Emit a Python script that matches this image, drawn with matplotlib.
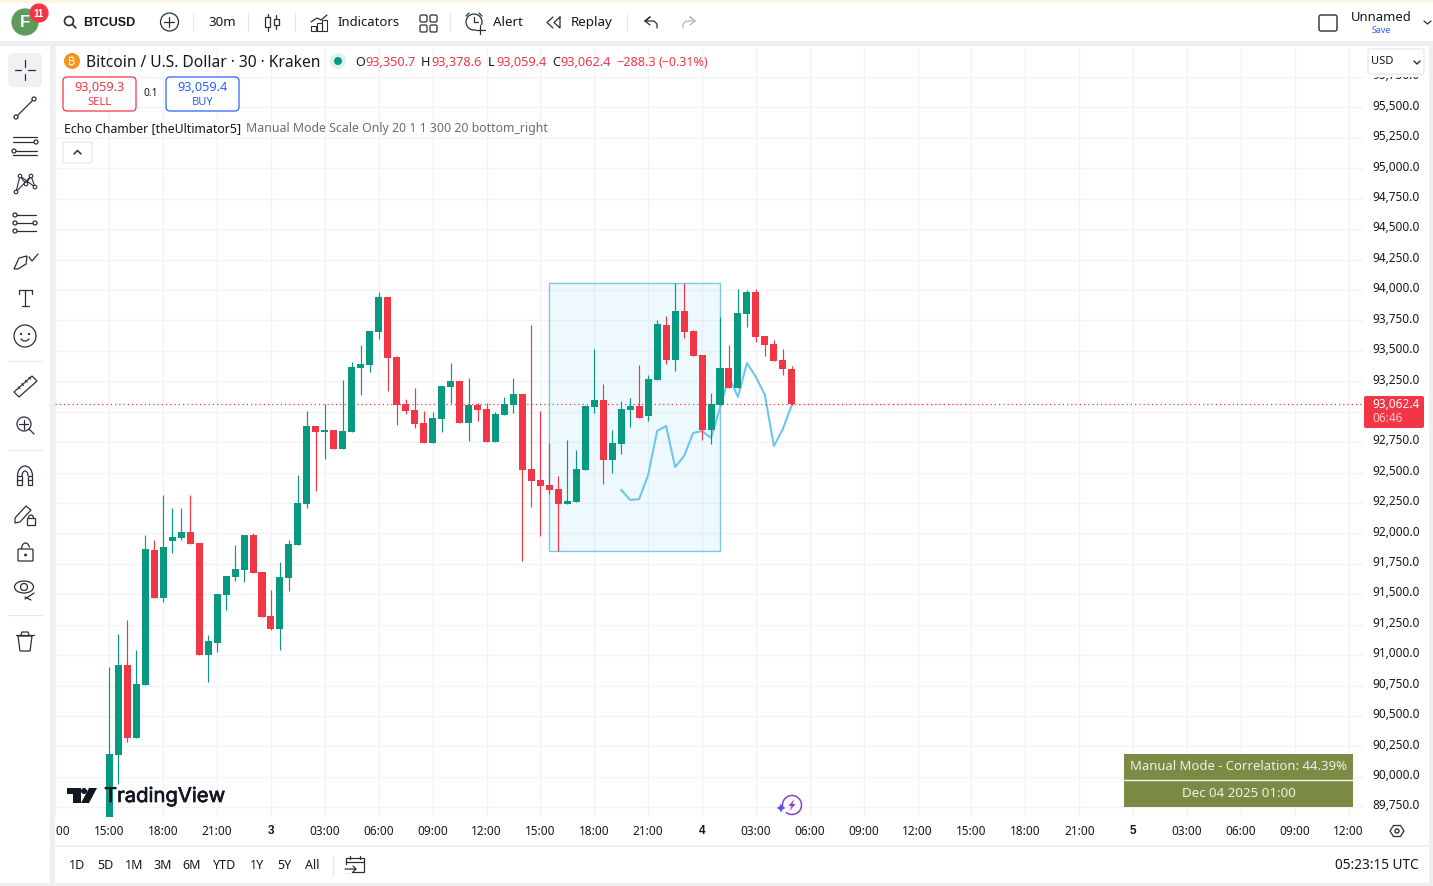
import matplotlib
matplotlib.use('Agg')
import matplotlib.pyplot as plt
import matplotlib.patheffects as pe
import numpy as np
from matplotlib.patches import Rectangle, Circle, FancyBboxPatch, Polygon, Ellipse, Arc

plt.rcParams['font.family'] = ['Noto Sans', 'DejaVu Sans']

# candles, one row per 30 minute bar starting Dec 2 15:00
opens = [89670, 90180, 90919, 90319, 90755, 91864, 91470, 91938, 91963, 92012, 91921, 91001, 91100, 91494,
         91642, 91700, 91987, 91683, 91322, 91215, 91634, 91905, 92242, 92883, 92834, 92850, 92694, 92834,
         93360, 93384, 93655, 93943, 93450, 93064, 93014, 92907, 92743, 92940, 93203, 93253, 92907, 93056,
         93023, 92752, 92973, 93056, 93146, 92529, 92439, 92398, 92365, 92242, 92258, 92521, 93039, 93097,
         92604, 92735, 93014, 93047, 92965, 93261, 93713, 93425, 93828, 93664, 93466, 92850, 93056, 93360,
         93195, 93803, 93984, 93623, 93557, 93425, 93350.7]
highs = [90902, 91174, 91289, 91042, 91987, 91946, 92316, 92209, 92209, 92316, 91921, 91165, 91502, 91650,
         91905, 91987, 92004, 91683, 91535, 91765, 91946, 92480, 93006, 92883, 93063, 92850, 93261, 93409,
         93549, 93664, 93984, 93943, 93458, 93105, 93195, 93006, 92998, 93212, 93401, 93253, 93277, 93072,
         93072, 92998, 93121, 93277, 93146, 93713, 93006, 92743, 92472, 92768, 92686, 93056, 93516, 93228,
         92850, 93088, 93113, 93384, 93302, 93754, 93787, 94058, 94058, 93672, 93466, 93154, 93779, 93549,
         94009, 94000, 94009, 93623, 93590, 93516, 93378.6]
lows = [89670, 89941, 90286, 90319, 90755, 91470, 91437, 91839, 91946, 91913, 91001, 90779, 91026, 91371,
        91609, 91601, 91675, 91313, 91207, 91042, 91527, 91905, 92209, 92349, 92612, 92694, 92694, 92834,
        93138, 93327, 93598, 93171, 92892, 92982, 92866, 92743, 92743, 92834, 93072, 92907, 92760, 92924,
        92752, 92752, 92973, 92990, 91774, 92217, 91979, 92324, 91856, 92242, 92258, 92521, 92990, 92406,
        92496, 92653, 92875, 92949, 92924, 93261, 93392, 93335, 93606, 93458, 92768, 92735, 93056, 93195,
        93195, 93697, 93573, 93458, 93417, 93302, 93059.4]
closes = [90188, 90919, 90319, 90763, 91872, 91470, 91889, 91971, 92012, 91913, 91001, 91116, 91502, 91650,
          91708, 91987, 91675, 91313, 91215, 91642, 91913, 92250, 92883, 92834, 92850, 92694, 92842, 93368,
          93393, 93664, 93943, 93442, 93056, 93006, 92899, 92743, 92949, 93212, 93253, 92907, 93056, 93014,
          92752, 92982, 93064, 93146, 92521, 92430, 92390, 92357, 92242, 92266, 92529, 93047, 93097, 92604,
          92743, 93023, 93047, 92949, 93269, 93721, 93425, 93828, 93655, 93458, 92850, 93064, 93360, 93195,
          93812, 93984, 93614, 93549, 93417, 93351, 93062.4]

# Echo Chamber overlay line, starts at bar 57
echo_start = 57
echo_values = [92357, 92275, 92283, 92480, 92842, 92883, 92546, 92636, 92825, 92842, 92785, 93031, 93285,
               93121, 93401, 93285, 93138, 92718, 92858, 93056]

# highlighted window
box_bars = (49, 68)
box_prices = (91856, 94058)
last_close = 93062.4

price_ticks = np.arange(89750, 96000, 250)
time_ticks = np.arange(-6, 139, 6)
time_labels = ['12:00', '15:00', '18:00', '21:00', '3', '03:00', '06:00', '09:00', '12:00', '15:00', '18:00',
               '21:00', '4', '03:00', '06:00', '09:00', '12:00', '15:00', '18:00', '21:00', '5', '03:00',
               '06:00', '09:00', '12:00']

GREEN = '#089981'
RED = '#F23645'
GRID = '#F2F3F5'
DARK = '#131722'
ICON = '#2A2E39'

W, H = 1433, 886
fig = plt.figure(figsize=(W / 100, H / 100), dpi=100, facecolor='white')

# main chart, pixel box 55..1363 x 47..817
ax = fig.add_axes([55 / W, 1 - 817 / H, (1363 - 55) / W, (817 - 47) / H])
ax.set_xlim(-6.05, 139.6)
ax.set_ylim(96383.3 - 8.217 * 817, 96383.3 - 8.217 * 47)
for s in ax.spines.values():
    s.set_visible(False)
ax.yaxis.tick_right()
ax.set_yticks(price_ticks)
ax.set_yticklabels([])
ax.tick_params(axis='y', length=0)
# price labels sit a pixel above their grid line, the 93,000 one is behind the last price tag
for p in price_ticks:
    if p != 93000:
        ax.annotate(f'{p:,.1f}', xy=(1, p), xycoords=('axes fraction', 'data'), xytext=(9, 1.3),
                    textcoords='offset pixels', fontsize=8.5, color=DARK, va='center', ha='left',
                    annotation_clip=False)
ax.set_xticks(time_ticks)
ax.set_xticklabels(time_labels, fontsize=8.5, color=DARK)
ax.tick_params(axis='x', length=0, pad=5.8)
for lab, t in zip(ax.get_xticklabels(), time_labels):
    if len(t) == 1:
        lab.set_family('Liberation Sans')
        lab.set_fontweight('bold')
ax.grid(True, color=GRID, lw=1)
ax.set_axisbelow(True)

ax.add_patch(Rectangle((box_bars[0], box_prices[0]), box_bars[1] - box_bars[0], box_prices[1] - box_prices[0],
                       facecolor='#5FCBF5', alpha=0.1, edgecolor='none', zorder=1.5))
ax.add_patch(Rectangle((box_bars[0], box_prices[0]), box_bars[1] - box_bars[0], box_prices[1] - box_prices[0],
                       facecolor='none', edgecolor='#7CC8E4', lw=1, zorder=1.6))

ax.plot(np.arange(len(echo_values)) + echo_start, echo_values, color='#6EC6EE', lw=1.5, zorder=2,
        solid_joinstyle='round')

idx = np.arange(len(opens))
o = np.array(opens, dtype=float)
c = np.array(closes, dtype=float)
colors = [GREEN if b > a else RED for a, b in zip(o, c)]
ax.vlines(idx, lows, highs, colors=colors, lw=0.85, zorder=3)
ax.bar(idx, np.abs(c - o), bottom=np.minimum(o, c), width=0.78, color=colors, lw=0, zorder=3)

ax.axhline(last_close, color=RED, lw=0.9, ls=(0, (1, 2.4)), zorder=2.5)
ax.plot([76, 96], [last_close, last_close], color=RED, lw=1, alpha=0.3, ls=(0, (2, 2)), zorder=2.4)

# everything else is screen furniture, drawn in pixel coordinates
ui = fig.add_axes([0, 0, 1, 1], facecolor='none', zorder=5)
ui.set_xlim(0, W)
ui.set_ylim(H, 0)
ui.axis('off')


def txt(x, y, s, size=9, color=DARK, ha='left', **kw):
    return ui.text(x, y + 0.7, s, fontsize=size, color=color, ha=ha, va='center', **kw)


def box(x0, y0, x1, y1, fc='white', ec='none', lw=1, r=0, z=1):
    if r:
        p = FancyBboxPatch((x0 + r, y0 + r), x1 - x0 - 2 * r, y1 - y0 - 2 * r, boxstyle=f'round,pad={r},rounding_size={r}',
                           fc=fc, ec=ec, lw=lw, zorder=z)
    else:
        p = Rectangle((x0, y0), x1 - x0, y1 - y0, fc=fc, ec=ec, lw=lw, zorder=z)
    ui.add_patch(p)


def line(xs, ys, color=ICON, lw=0.9, z=3):
    ui.plot(xs, ys, color=color, lw=lw, zorder=z, solid_capstyle='round')


def ring(x, y, r, color=ICON, lw=0.9, fc='none', z=3):
    ui.add_patch(Circle((x, y), r, fc=fc, ec=color, lw=lw, zorder=z))


GUT = '#EEEFF1'
box(0, 0, 50, H, fc='white')
box(50, 0, 55, H, fc=GUT)
box(0, 0, W, 42, fc='white')
box(0, 0, W, 3, fc='#FBF3E4', z=1.2)
box(0, 41, W, 46, fc=GUT, z=1.2)
box(55, 846, W, H, fc='white')
box(55, 845, W, 847, fc=GUT, z=1.2)
box(0, 883, W, H, fc=GUT, z=1.2)
box(1429, 42, W, H, fc=GUT, z=1.2)

# top bar
ring(25, 22, 13, color='#5E9C5B', fc='#5E9C5B')
txt(25, 22, 'F', size=12, color='white', ha='center', family='Liberation Sans', fontweight='bold', zorder=4)
ring(39, 13, 9, color=RED, fc=RED, z=4)
txt(39, 13, '11', size=7, color='white', ha='center', family='Liberation Sans', fontweight='bold', zorder=5)
ring(69, 21, 4.5, lw=1.2)
line([72.5, 76], [24.5, 28], lw=1.2)
txt(83, 22, 'BTCUSD', size=9, family='Liberation Sans', fontweight='bold')
ring(169.5, 22, 9)
line([164.5, 174.5], [22, 22])
line([169.5, 169.5], [17, 27])
txt(208, 22, '30m', size=9.6)
for x in [193, 248, 295, 450, 627]:
    line([x, x], [13, 31], color='#E6E7EA', lw=0.8)
line([268, 268], [14, 31])
box(265.5, 17, 270.5, 27, fc='white', ec=ICON, lw=0.9, z=4)
line([276.5, 276.5], [15, 29])
box(274, 19, 279, 25, fc='white', ec=ICON, lw=0.9, z=4)
line([311, 317, 321, 327], [22, 18, 20, 15])
for x0, y0 in [(311, 26), (317, 23), (322, 20)]:
    box(x0, y0, x0 + 5, 31, fc='none', ec=ICON, lw=0.8, z=3)
txt(337, 22, 'Indicators', size=9.4)
for x0 in [420, 430]:
    for y0 in [15, 25]:
        box(x0, y0, x0 + 7, y0 + 7, fc='none', ec=ICON, lw=0.9, r=1.5, z=3)
ring(474, 22, 8)
line([474, 474, 478], [17, 22, 22])
line([466, 469], [16, 13])
line([479, 482], [13, 16])
box(476, 25, 485, 34, fc='white', z=3.5)
line([476, 485], [29.5, 29.5], z=4)
line([480.5, 480.5], [25, 34], z=4)
txt(493, 22, 'Alert', size=9.6)
line([553, 547, 553], [17, 22.5, 28])
line([560, 554, 560, 560], [17, 22.5, 28, 17])
txt(571, 22, 'Replay', size=9.6)
line([645, 650, 645, 654, 657, 657], [21, 17, 21, 21, 24, 28])
line([645, 650], [21, 25])
line([695, 690, 695, 686, 683, 683], [21, 17, 21, 21, 24, 28], color='#B2B5BE')
line([695, 690], [21, 25], color='#B2B5BE')
box(1319, 15, 1337, 31, fc='white', ec=ICON, lw=1, r=2, z=3)
txt(1381, 17, 'Unnamed', size=9.4, ha='center')
txt(1381, 29.5, 'Save', size=6.4, color='#2962FF', ha='center')
line([1424, 1427.5, 1431], [21, 24, 21])

# legend rows
ring(72, 61, 8, color='#F7931A', fc='#F7931A', lw=0)
txt(72, 60.5, '₿', size=8, color='white', ha='center', zorder=4,
    family=['Inter', 'Noto Sans', 'Roboto', 'Open Sans', 'DejaVu Sans'])
txt(86, 61.8, 'Bitcoin / U.S. Dollar · 30 · Kraken', size=11.2)
ring(338, 61, 8, color='#DDF3EF', fc='#DDF3EF', lw=0)
ring(338, 61, 4, color=GREEN, fc=GREEN, lw=0, z=4)
for lx, l, vx, v in [(355, 'O', 365, '93,350.7'), (421, 'H', 431, '93,378.6'),
                     (487.5, 'L', 496, '93,059.4'), (552, 'C', 560, '93,062.4')]:
    txt(lx, 61.6, l, size=9)
    txt(vx, 61.6, v, size=9.2, color=RED)
txt(616, 61.6, '−288.3', size=9.2, color=RED)
txt(659, 61.6, '(−0.31%)', size=9, color=RED)

box(63, 77, 136, 111, fc='white', ec=RED, lw=0.9, r=4, z=2)
txt(99.5, 87, '93,059.3', size=9.2, color=RED, ha='center')
txt(99.5, 101.6, 'SELL', size=8, color=RED, ha='center')
txt(151, 93, '0.1', size=7.4, ha='center')
box(166, 77, 239, 111, fc='white', ec='#2962FF', lw=0.9, r=4, z=2)
txt(203, 87, '93,059.4', size=9.2, color='#2962FF', ha='center')
txt(203, 101.6, 'BUY', size=8, color='#2962FF', ha='center')
txt(64, 127.5, 'Echo Chamber [theUltimator5]', size=8.9)
txt(246, 127.5, 'Manual Mode Scale Only 20 1 1 300 20 bottom_right', size=8.85, color='#6A6D78')
box(63, 142, 92, 163, fc='white', ec='#E0E3EB', lw=0.8, r=2, z=2)
line([74, 77.5, 81], [154, 150.5, 154], lw=1.1)

# left toolbar
box(8, 53, 42, 87, fc='#F0F1F3', r=5, z=2)
line([25, 25], [60, 66.5])
line([25, 25], [73.5, 80])
line([15, 21.5], [70, 70])
line([28.5, 35], [70, 70])
line([17, 33], [116, 100])
ring(16, 117, 2, fc='white', z=4)
ring(34, 99, 2, fc='white', z=4)
line([13, 37], [137, 137])
line([13, 35], [142, 142])
line([16, 37], [151, 151])
line([13, 37], [155, 155])
ring(36, 142, 2, fc='white', z=4)
ring(14, 151, 2, fc='white', z=4)
for xs, ys in [([16, 20, 26, 31, 35], [192, 176, 184, 176, 187]), ([16, 31], [192, 176]), ([20, 35], [176, 187])]:
    line(xs, ys, lw=0.8)
for px, py in [(16, 192), (20, 176), (26, 184), (31, 176), (35, 187)]:
    ring(px, py, 1.8, fc='white', z=4, lw=0.8)
for yy in [215, 223, 231]:
    line([16, 36], [yy, yy])
    ring(15, yy, 2, fc='white', z=4)
ring(35, 223, 2, fc='white', z=4)
ui.add_patch(Polygon([[14, 269], [19, 258], [27, 256], [26, 264], [18, 269]], fc='white', ec=ICON, lw=0.9, zorder=3))
line([29, 32, 38], [257, 261, 254])
line([19, 32], [290, 290])
line([25.5, 25.5], [290, 306])
line([19, 19], [290, 294])
line([32, 32], [290, 294])
line([22, 29], [306, 306])
ring(25, 336, 11)
ring(21, 334, 0.5, fc=ICON)
ring(29, 334, 0.5, fc=ICON)
ui.add_patch(Arc((25, 337), 9, 8, theta1=20, theta2=160, ec=ICON, lw=0.9, zorder=3))
line([8, 42], [361, 361], color='#E6E7EA', lw=0.8)
ui.add_patch(Polygon([[14, 392], [32, 376], [37, 381], [19, 397]], fc='white', ec=ICON, lw=0.9, zorder=3))
for t in [0.2, 0.4, 0.6, 0.8]:
    x0, y0 = 16.5 + 18 * t, 394.5 - 16 * t
    line([x0, x0 - 2], [y0 - 2.5, y0 - 4.5], lw=0.7, z=4)
ring(24, 424, 7)
line([19.5, 28.5], [424, 424])
line([24, 24], [419.5, 428.5])
line([29, 34], [429, 434])
line([8, 42], [450, 450], color='#E6E7EA', lw=0.8)
ui.add_patch(Arc((25, 476), 15, 20, theta1=180, theta2=360, ec=ICON, lw=0.9, zorder=3))
ui.add_patch(Arc((25, 476), 6, 10, theta1=180, theta2=360, ec=ICON, lw=0.9, zorder=3))
for x0 in [17.5, 28]:
    box(x0, 476, x0 + 4.5, 485, fc='none', ec=ICON, lw=0.9, z=3)
line([17.5, 22], [480, 480])
line([28, 32.5], [480, 480])
ui.add_patch(Polygon([[15, 518], [26, 506], [31, 510], [20, 522], [15, 523]], fc='white', ec=ICON, lw=0.9, zorder=3))
box(27, 518, 35, 525, fc='white', ec=ICON, lw=0.9, z=4)
ui.add_patch(Arc((31, 518), 5, 6, theta1=180, theta2=360, ec=ICON, lw=0.9, zorder=4))
box(18, 549, 33, 561, fc='white', ec=ICON, lw=0.9, r=1, z=3)
ui.add_patch(Arc((25.5, 549), 8, 12, theta1=180, theta2=340, ec=ICON, lw=0.9, zorder=3))
ring(25.5, 555, 0.8, fc=ICON)
ui.add_patch(Ellipse((24, 587), 19, 12, fc='none', ec=ICON, lw=0.9, zorder=3))
ring(24, 587, 3.5)
line([25, 34], [599, 593])
line([25, 31], [597, 600])
line([8, 42], [615, 615], color='#E6E7EA', lw=0.8)
ui.add_patch(Polygon([[18, 636], [20, 651], [30, 651], [32, 636]], fc='white', ec=ICON, lw=0.9, zorder=3))
line([16, 34], [635, 635])
line([21, 22, 28, 29], [635, 632, 632, 635])

# price scale extras
box(1364, 46, 1429, 76.5, fc='white', z=1.5)
box(1368, 49, 1424, 74, fc='white', ec='#E0E3EB', lw=0.8, r=2, z=2)
txt(1371, 61, 'USD', size=8)
line([1414, 1417, 1420], [61, 64, 61], lw=1)
box(1364, 396, 1424, 428, fc=RED, r=2, z=2)
txt(1372, 404, '93,062.4', size=8.5, color='white', zorder=3)
txt(1372, 418, '06:46', size=8.5, color='#FFC8CD', zorder=3)
ring(1397, 831, 2, lw=1)
ui.add_patch(Polygon([[1390, 831], [1393.5, 825.5], [1400.5, 825.5], [1404, 831], [1400.5, 836.5], [1393.5, 836.5]],
                     fc='none', ec=ICON, lw=0.9, zorder=3))

# table bottom right
box(1124, 754, 1353, 807, fc='#7B8B45', z=2)
line([1124, 1353], [780, 780], color='#F4F5EC', lw=1)
txt(1239, 766, 'Manual Mode - Correlation: 44.39%', size=9.45, color='#F0F2E4', ha='center', zorder=3)
txt(1239, 793, 'Dec 04 2025 01:00', size=9.6, color='#F0F2E4', ha='center', zorder=3)

# logo
ui.add_patch(Polygon([[67, 788], [81, 788], [81, 803], [73.5, 803], [73.5, 793.5], [67, 793.5]], fc=DARK, ec='none', zorder=3))
ring(84, 791, 3, color=DARK, fc=DARK, lw=0)
ui.add_patch(Polygon([[89, 788], [97, 788], [89, 803], [81, 803]], fc=DARK, ec='none', zorder=3))
txt(104, 796.3, 'TradingView', size=14.6, family='Inter',
    path_effects=[pe.withStroke(linewidth=0.5, foreground=DARK)])

# purple flash badge
ui.add_patch(Arc((792, 805), 19, 19, theta1=-200, theta2=130, ec='#8E3FC9', lw=1.1, zorder=3))
ui.add_patch(Polygon([[794.5, 799], [788.5, 806], [791.5, 806], [789.5, 811], [795.5, 804], [792.5, 804]],
                     fc='#8E3FC9', ec='none', zorder=4))
ui.add_patch(Polygon([[781, 803.5], [782.5, 806.5], [785.5, 808], [782.5, 809.5], [781, 812.5], [779.5, 809.5],
                      [776.5, 808], [779.5, 806.5]], fc='#5B4FE0', ec='none', zorder=4))

# bottom bar
for x, s in [(77, '1D'), (105, '5D'), (134, '1M'), (163, '3M'), (192, '6M'), (225, 'YTD'), (257, '1Y'),
             (284, '5Y'), (312, 'All')]:
    txt(x, 865, s, size=9, ha='center')
line([333, 333], [856, 875], color='#E6E7EA', lw=0.8)
box(346, 858, 364, 872, fc='white', ec=ICON, lw=0.9, z=3)
line([346, 364], [861.5, 861.5])
line([350, 350], [856, 859])
line([360, 360], [856, 859])
box(345, 865, 352, 873, fc='white', z=3.5)
line([345, 356, 353], [869, 869, 866], z=4)
line([356, 353], [869, 872], z=4)
txt(1419, 865, '05:23:15 UTC', size=9.8, ha='right')

fig.savefig('out.png', dpi=100)
